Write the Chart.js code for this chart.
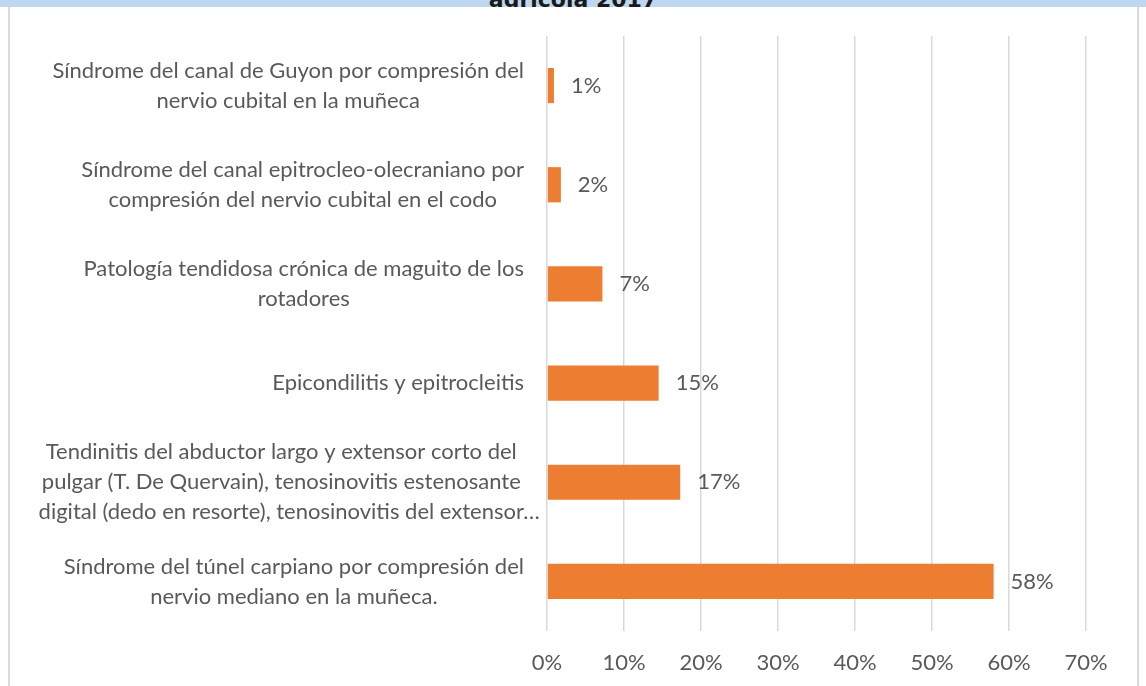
<!DOCTYPE html>
<html>
<head>
<meta charset="utf-8">
<script src="https://cdn.jsdelivr.net/npm/chart.js@4"></script>
<style>
  body { margin: 0; background: #fff; }
  #band { position: absolute; left: 0; top: 0; width: 1146px; height: 7px; background: #BDD7EE; overflow: hidden; }
  #band span { position: absolute; left: 0; width: 1146px; top: -13px; line-height: 22px; text-align: center;
               font: bold 22px "DejaVu Sans"; color: #1a1a1a; }
  #frame { position: absolute; left: 8px; top: 7px; width: 1127px; height: 700px;
           border-left: 2px solid #DADADA; border-right: 2px solid #DADADA; }
  #chart { position: absolute; left: 0; top: 0; }
</style>
</head>
<body>
<div id="band"><span>agrícola 2017</span></div>
<div id="frame"></div>
<canvas id="chart" width="1146" height="686"></canvas>
<script>
// Data
const categories = [
    ['Síndrome del canal de Guyon por compresión del', 'nervio cubital en la muñeca'],
    ['Síndrome del canal epitrocleo-olecraniano por', 'compresión del nervio cubital en el codo'],
    ['Patología tendidosa crónica de maguito de los', 'rotadores'],
    ['Epicondilitis y epitrocleitis'],
    ['Tendinitis del abductor largo y extensor corto del', 'pulgar (T. De Quervain), tenosinovitis estenosante', 'digital (dedo en resorte), tenosinovitis del extensor…'],
    ['Síndrome del túnel carpiano por compresión del', 'nervio mediano en la muñeca.']
];
const values = [0.9, 1.8, 7.2, 14.5, 17.3, 58.0];
const xTicks = [0, 10, 20, 30, 40, 50, 60, 70];

const TEXT = '#595959';
const FONT = 'Lato';
const FONT_PX = 22;
const LINE_H = 30;

// category + value labels, drawn by hand so wrapped lines stay centred per block
const labelPlugin = {
    id: 'catLabels',
    afterDraw(chart) {
        const ctx = chart.ctx;
        const y = chart.scales.y, x = chart.scales.x;
        ctx.save();
        ctx.font = FONT_PX + 'px ' + FONT;
        ctx.fillStyle = TEXT;
        ctx.textBaseline = 'middle';
        ctx.textAlign = 'left';
        categories.forEach((lines, i) => {
            const cy = y.getPixelForValue(i);
            const bases = lines.map(l => l.replace(/…$/, ''));
            const widest = Math.max(...bases.map(b => ctx.measureText(b).width));
            const cx = x.left - 23 - widest / 2;
            lines.forEach((line, j) => {
                const ly = cy + (j - (lines.length - 1) / 2) * LINE_H;
                const w = ctx.measureText(bases[j]).width;
                ctx.fillText(line, cx - w / 2, ly);
            });
        });
        const meta = chart.getDatasetMeta(0);
        meta.data.forEach((bar, i) => {
            ctx.fillText(Math.round(values[i]) + '%', bar.x + 17, bar.y);
        });
        ctx.restore();
    }
};

const ctx = document.getElementById('chart').getContext('2d');
const chart = new Chart(ctx, {
    type: 'bar',
    data: {
        labels: categories.map(l => l.join(' ')),
        datasets: [{
            data: values,
            backgroundColor: '#ED7D31',
            borderWidth: 0,
            categoryPercentage: 1,
            barPercentage: 0.355
        }]
    },
    options: {
        indexAxis: 'y',
        responsive: false,
        animation: false,
        layout: {
            padding: { left: 547, right: 60, top: 36, bottom: 0 }
        },
        scales: {
            x: {
                min: xTicks[0],
                max: xTicks[xTicks.length - 1],
                afterBuildTicks: scale => { scale.ticks = xTicks.map(v => ({ value: v })); },
                afterFit: scale => { scale.height = 55; },
                grid: { color: '#D9D9D9', lineWidth: 1.5, drawTicks: false },
                border: { display: false },
                ticks: {
                    color: TEXT,
                    padding: 19,
                    font: { family: FONT, size: FONT_PX },
                    callback: v => v + '%'
                }
            },
            y: { display: false }
        },
        plugins: {
            legend: { display: false },
            tooltip: { enabled: false }
        }
    },
    plugins: [labelPlugin]
});
</script>
</body>
</html>
